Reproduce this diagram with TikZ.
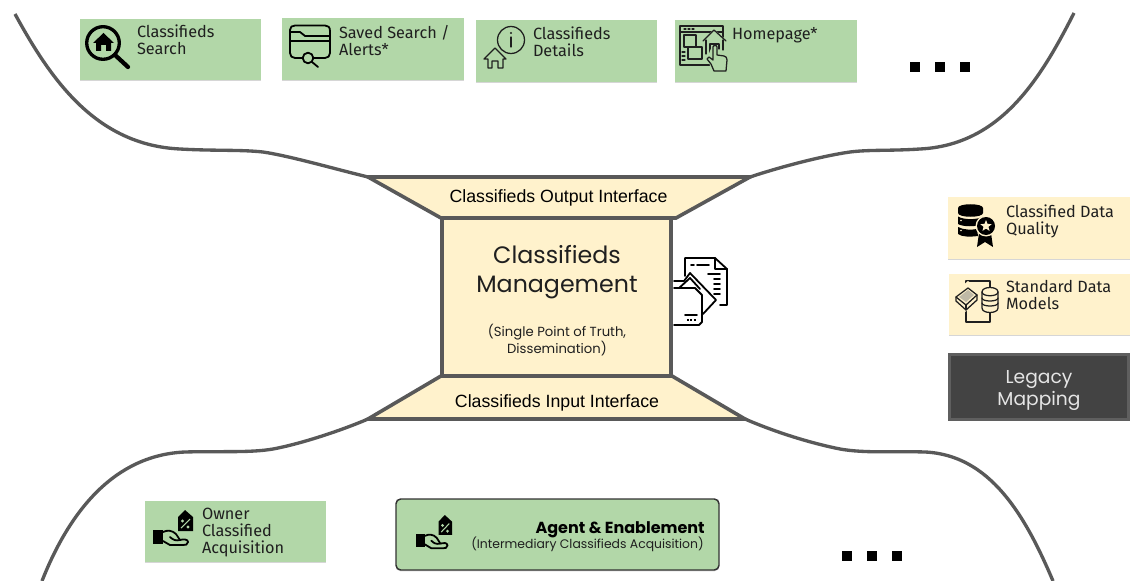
\documentclass[tikz,border=0pt]{standalone}
\usepackage{fontspec}
\setmainfont{Fira Sans}
\newfontfamily\arialf{Liberation Sans}
\newfontfamily\popf{Poppins}
\usetikzlibrary{shadows,shapes.geometric}
\definecolor{gbox}{HTML}{B2D7A8}
\definecolor{ybox}{HTML}{FFF2CC}
\definecolor{edge}{HTML}{595959}
\definecolor{dbox}{HTML}{434343}
\definecolor{dborder}{HTML}{5F5F5F}
\definecolor{ink}{HTML}{1F1F1F}
\tikzset{
  sz/.style 2 args={minimum width=#1*0.75pt, minimum height=#2*0.75pt, inner sep=0pt, outer sep=0pt},
  softshadow/.style={drop shadow={shadow xshift=0pt, shadow yshift=-1pt, opacity=.16, fill=black}},
  greenbox/.style={fill=gbox, softshadow},
  yellowbox/.style={fill=ybox, softshadow},
  lbl/.style={anchor=north west, align=left, inner sep=0pt, outer sep=0pt, text=ink,
     font=\fontsize{12.2pt}{12.9pt}\selectfont},
  arial/.style={inner sep=0pt, text=black, font=\arialf\fontsize{13.3pt}{15pt}\selectfont},
  wall/.style={draw=edge, line width=2.7pt, line join=miter},
  curve/.style={draw=edge, line width=2.5pt, line cap=butt},
  ic/.style={draw=black, line width=1.35pt, line join=round, line cap=round},
  icthin/.style={draw=ink, line width=.95pt, line join=round, line cap=round},
  dotsq/.style={fill=black, draw=none, minimum size=7.5pt, inner sep=0pt, outer sep=0pt},
}
\newcommand{\handtag}{%
  \fill[black] (0,0) rectangle (10,14);
  \draw[ic] (10,2) .. controls (14,0) and (19,0) .. (23,4) -- (27,10) .. controls (30,9) and (35,9) .. (35,12)
     .. controls (35,15) and (32,15) .. (30,15) -- (17,15) -- (10,11);
  \draw[ic] (17,7) .. controls (20,10) and (23,11) .. (27,10);
  \fill[black] (25,-13) -- (32,-20) -- (40,-13) -- (40,1) -- (25,1) -- cycle;
  \draw[gbox, line width=.8pt] (28,-2) -- (37,-11);
  \fill[gbox] (29.5,-9) circle (1.7);
  \fill[gbox] (35,-3) circle (1.7);
}
\begin{document}
\begin{tikzpicture}[x=0.75pt,y=-0.75pt]
\useasboundingbox (0,0) rectangle (1142,581);

% named corners of the funnel
\coordinate (otl) at (368,177);
\coordinate (otr) at (750,177);
\coordinate (obl) at (441,218);
\coordinate (obr) at (676,218);
\coordinate (itl) at (441,376);
\coordinate (itr) at (672,376);
\coordinate (ibl) at (368,419);
\coordinate (ibr) at (745,419);
\coordinate (ctl) at (15,14);
\coordinate (ctr) at (1074,13);
\coordinate (cbl) at (42,581);
\coordinate (cbr) at (1053,581);

% curves
\draw[curve] (ctl) .. controls (50,78) and (95,145) .. (180,149)
   .. controls (215,151) and (240,149.5) .. (263,152) .. controls (290,156) and (335,169) .. (otl);
\draw[curve] (ctr) .. controls (1040,80) and (1000,145) .. (920,149)
   .. controls (890,151) and (870,149.5) .. (850,152) .. controls (822,156) and (780,167) .. (otr);
\draw[curve] (cbl) .. controls (70,510) and (115,455) .. (185,452)
   .. controls (220,451) and (250,453) .. (273,449) .. controls (300,444) and (340,431) .. (ibl);
\draw[curve] (cbr) .. controls (1025,515) and (990,455) .. (925,452)
   .. controls (895,451) and (865,453.5) .. (840,449) .. controls (810,443) and (775,432) .. (ibr);

% interfaces
\draw[wall, fill=ybox] (otl) -- (otr) -- (obr) -- (obl) -- cycle;
\draw[wall, fill=ybox] (itl) -- (itr) -- (ibr) -- (ibl) -- cycle;
\node[arial] (outif) at (558.5,197.5) {Classifieds Output Interface};
\node[arial] (inif) at (557,403) {Classifieds Input Interface};

% management box
\node[wall, fill=ybox, sz={229}{158}] (mgmt) at (556.5,297) {};
\node[inner sep=0pt, align=center, font=\popf\fontsize{17.8pt}{21.3pt}\selectfont, text=ink] (mgmtt) at (557,272) {Classifieds\\Management};
\node[inner sep=0pt, align=center, font=\popf\fontsize{9.9pt}{11pt}\selectfont, text=ink] (mgmts) at (557,340) {(Single Point of Truth,\\Dissemination)};

% top boxes
\node[greenbox, sz={181}{61}] (b1) at (170.5,49.5) {};
\node[greenbox, sz={182}{62}] (b2) at (373,49) {};
\node[greenbox, sz={181}{62}] (b3) at (566.5,51) {};
\node[greenbox, sz={182}{62}] (b4) at (766,51) {};
\node[lbl] (t1) at (137,25) {Classifieds\\Search};
\node[lbl] (t2) at (339,25) {Saved Search /\\Alerts*};
\node[lbl] (t3) at (533,27) {Classifieds\\Details};
\node[lbl] (t4) at (732,27) {Homepage*};

% icon: home search
\draw[black, line width=2.5pt] (103,43) circle (16.3);
\draw[black, line width=3.2pt, line cap=round] (115,55) -- (128,67);
\fill[black] (103.5,33) -- (114,43) -- (111,43) -- (111,51) -- (106,51) -- (106,45) -- (101,45) -- (101,51) -- (96,51) -- (96,43) -- (93,43) -- cycle;

% icon: folder
\draw[ic] (303,58) -- (295,58) .. controls (292,58) and (290,56) .. (290,53) -- (290,30)
   .. controls (290,27) and (292,25.5) .. (295,25.5) -- (325,25.5) .. controls (328,25.5) and (330,27) .. (330,31)
   -- (330,53) .. controls (330,56) and (328,58) .. (325,58) -- (314,58);
\draw[ic] (290,41) -- (330,41);
\draw[ic] (290,32) -- (300,32) -- (305,36) -- (330,36);
\draw[ic] (308,58) circle (5.3);
\draw[ic] (312,62) -- (318,67);

% icon: info house
\draw[icthin] (511,40) circle (13.5);
\fill[ink] (511,33) circle (1.1);
\draw[icthin] (511,37) -- (511,47);
\draw[icthin] (484,59) -- (495,48) -- (506,59) -- (503,59) -- (503,68) -- (498,68) -- (498,61) -- (492,61) -- (492,68) -- (488,68) -- (488,59) -- cycle;

% icon: homepage
\draw[icthin] (680,26) rectangle (723,65);
\draw[icthin] (680,32) -- (723,32);
\draw[icthin] (684,29) -- (686,29) (688,29) -- (690,29) (692,29) -- (694,29);
\draw[icthin] (684,35) rectangle (696,47);
\draw[icthin] (688,47) rectangle (702,59);
\draw[icthin] (682,52) -- (685,52) (682,56) -- (685,56) (682,60) -- (685,60);
\fill[gbox] (703,40) -- (714,29) -- (726,40) -- (726,56) -- (703,56) -- cycle;
\draw[icthin] (703,41) -- (714,30) -- (726,41);
\draw[icthin] (706,40) -- (706,54) (723,40) -- (723,50);
\draw[icthin] (710,53) -- (710,44) -- (719,44) -- (719,49);
\fill[gbox] (708,56) -- (712,46) -- (716,46) -- (717,54) -- (727,56) -- (727,71) -- (711,71) -- cycle;
\draw[icthin] (714,71) -- (711,64) -- (707,59) -- (709,57) -- (713,60) -- (713,47) .. controls (713,45) and (717,45) .. (717,47) -- (717,55) -- (724,56) .. controls (726,56) and (727,58) .. (727,60) -- (726,71) -- cycle;

% ellipsis, top
\node[dotsq] (d1) at (915,67) {};
\node[dotsq] (d2) at (940,67) {};
\node[dotsq] (d3) at (965,67) {};

% right column
\node[yellowbox, sz={182}{62}] (q) at (1039,228) {};
\node[yellowbox, sz={181}{61}] (s) at (1039.5,304.5) {};
\node[draw=dborder, line width=2.4pt, fill=dbox, sz={179}{65}, softshadow] (l) at (1039,387) {};
\node[lbl] (qt) at (1006,205) {Classified Data\\Quality};
\node[lbl] (st) at (1006,280) {Standard Data\\Models};
\node[inner sep=0pt, align=center, text=white!90!black, font=\popf\fontsize{14pt}{16.5pt}\selectfont] (lt) at (1039,391) {Legacy\\Mapping};

% icon: data quality
\fill[black] (958,208) .. controls (958,203) and (983,203) .. (983,208) -- (983,213) .. controls (983,218) and (958,218) .. (958,213) -- cycle;
\fill[black] (958,216.5) .. controls (963,220) and (978,220) .. (983,216.5) -- (983,224) .. controls (976,227) and (963,227) .. (958,224) -- cycle;
\fill[black] (958,227) .. controls (963,230) and (972,230) .. (977,229) -- (978,236) .. controls (970,237) and (962,237) .. (958,234) -- cycle;
\fill[ybox] (961,220.5) circle (.9) (961,230.5) circle (.9);
\fill[black] (979,233) -- (977,247) -- (985,242) -- (993,247) -- (991,233) -- cycle;
\fill[ybox] (986,226) circle (10.5);
\fill[black] (986,226) circle (9);
\node[star, star points=5, star point ratio=2.3, fill=ybox, inner sep=0pt, minimum size=9pt] (qstar) at (986,226) {};

% icon: standard data models
\draw[icthin] (975,281) -- (966,281) -- (966,322) -- (990,322) -- (990,281) -- (975,281);
\fill[ybox] (956,291) -- (968,281) -- (977,288) -- (977,303) -- (965,312) -- (956,302) -- cycle;
\fill[ybox] (982,287) rectangle (998,313);
\draw[icthin] (956,297) -- (968,288) -- (977,295) -- (966,305) -- cycle;
\draw[icthin] (956,297) -- (956,301) -- (966,310) -- (977,300) -- (977,295);
\draw[icthin] (966,305) -- (966,310);
\fill[gray!50!ybox] (959,297) -- (968,290) -- (974,295) -- (966,302) -- cycle;
\draw[icthin] (982,292) .. controls (982,286) and (998,286) .. (998,292) -- (998,308) .. controls (998,314) and (982,314) .. (982,308) -- cycle;
\draw[icthin] (982,292) .. controls (982,297) and (998,297) .. (998,292);
\draw[icthin] (982,298) .. controls (982,302) and (998,302) .. (998,298);
\draw[icthin] (982,303) .. controls (982,307) and (998,307) .. (998,303);

% icon: documents next to the management box
\fill[white] (685,258) -- (715,258) -- (727,269) -- (727,305) -- (685,305) -- cycle;
\draw[ic] (685,276) -- (685,258) -- (715,258) -- (727,269) -- (727,305) -- (720,305);
\draw[ic] (715,258) -- (715,269) -- (727,269);
\draw[ic] (691,265) -- (694,265) (697,265) -- (709,265);
\draw[ic] (708,274) -- (720,274) (714,279) -- (720,279) (714,284) -- (720,284) (714,289) -- (720,289) (714,294) -- (720,294);
\fill[white] (690,272) -- (716,300) -- (702,316) -- (676,288) -- cycle;
\draw[ic] (674,281) -- (684,281) -- (690,273) -- (716,300) -- (703,314);
\draw[ic] (678,289) -- (690,278) -- (700,289);
\fill[white] (673,288) -- (695,288) -- (702,295) -- (702,322) -- (699,325) -- (673,325) -- cycle;
\draw[ic] (674,288) -- (695,288) -- (702,295) -- (702,322) -- (699,325) -- (674,325);
\draw[ic] (685,315) -- (697,315);
\draw[ic, line cap=butt, dash pattern=on 1.3pt off 1.3pt] (687,320) -- (697,320);

% bottom boxes
\node[greenbox, sz={181}{61}] (o) at (235.5,531.5) {};
\node[draw=black!80, line width=1.1pt, rounded corners=3.5pt, fill=gbox, sz={323}{71}, softshadow] (a) at (557.5,534.5) {};
\node[lbl] (ot) at (202,508) {Owner\\Classified\\Acquisition};
\node[anchor=east, inner sep=0pt, text=black, font=\popf\bfseries\fontsize{12pt}{14pt}\selectfont] (at1) at (705,529.5) {Agent \& Enablement};
\node[anchor=east, inner sep=0pt, text=ink, font=\popf\fontsize{9.3pt}{12pt}\selectfont] (at2) at (704,544.5) {(Intermediary Classifieds Acquisition)};
\begin{scope}[shift={(153,530)}]\handtag\end{scope}
\begin{scope}[shift={(416,534)}, xscale=.9, yscale=.95]\handtag\end{scope}

% ellipsis, bottom
\node[dotsq] (e1) at (847,556) {};
\node[dotsq] (e2) at (872,556) {};
\node[dotsq] (e3) at (897,556) {};
\end{tikzpicture}
\end{document}
